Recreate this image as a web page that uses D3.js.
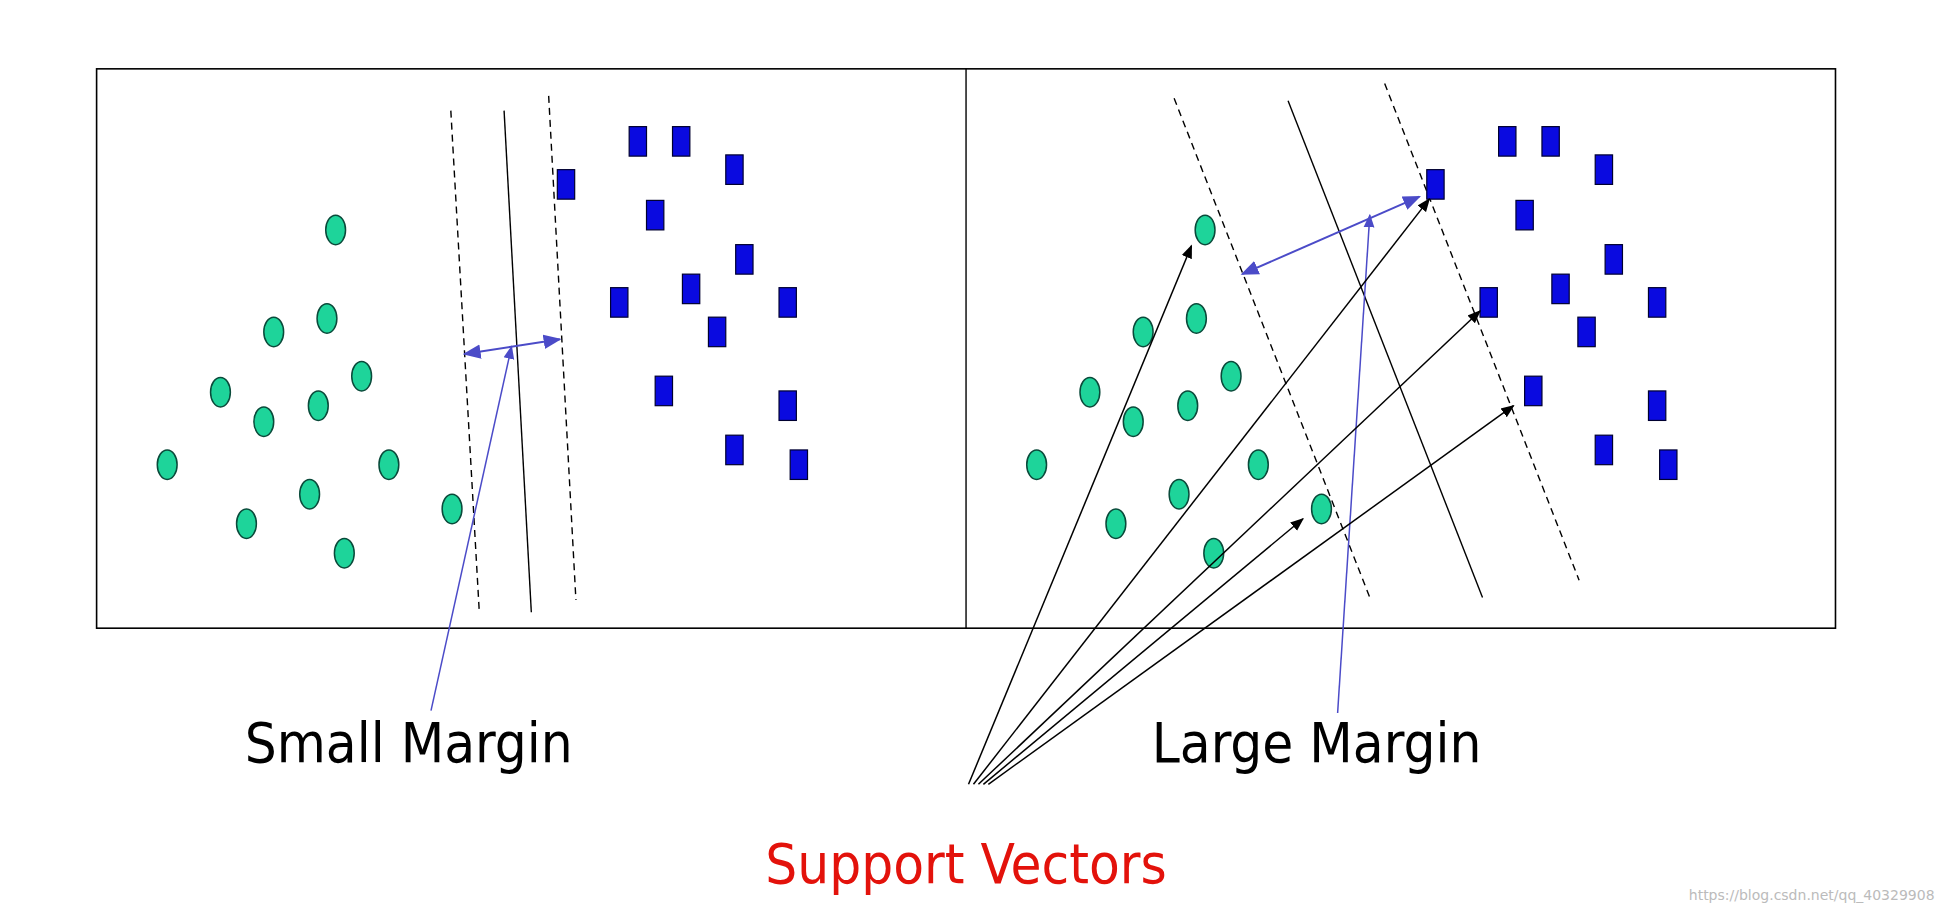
<!DOCTYPE html>
<html><head><meta charset="utf-8">
<script src="https://cdn.jsdelivr.net/npm/d3@7"></script>
<style>body{margin:0;background:#fff}svg{display:block}</style>
</head><body>
<svg id="chart"></svg>
<script>
// reference units (source picture ~1568x750), scaled to the window
const panelShift = 702;
const circles = [[271,187],[221,270],[264,259],[178,319],[213,343],[257,330],[292,306],
  [135,378],[314,378],[250,402],[199,426],[278,450],[365,414]];
const squares = [[515,115],[550,115],[593,138],[457,150],[529,175],[601,211],[500,246],
  [558,235],[636,246],[579,270],[536,318],[636,330],[593,366],[645,378]];
const leftLines = [
  {p:[[364,90],[387,498]], dash:true},
  {p:[[407,90],[429,498]], dash:false},
  {p:[[443,78],[465,488]], dash:true}];
const rightLines = [
  {p:[[948,80],[1106,486]], dash:true},
  {p:[[1040,82],[1197,486]], dash:false},
  {p:[[1118,68],[1275,472]], dash:true}];
const marginArrows = [[[375,288],[452,276]], [[1003,223],[1146,160]]];
const pointerArrows = [[[348,578],[413,282]], [[1080,580],[1106,175]]];
const svArrows = [[[782,638],[962,200]],[[786,638],[1154,162]],[[790,638],[1195,253]],
  [[794,638],[1052,422]],[[798,638],[1222,330]]];
const labels = [{t:"Small Margin",x:330,y:620,c:"#000"},{t:"Large Margin",x:1063,y:620,c:"#000"},
  {t:"Support Vectors",x:780,y:718,c:"#e3120b"}];

const W = 1942, H = 922;
const x = d3.scaleLinear().domain([0,1568]).range([0,W]);
const y = d3.scaleLinear().domain([0,750]).range([0,H]);
const svg = d3.select("#chart").attr("width",W).attr("height",H);

const defs = svg.append("defs");
[["blk","#000"],["blu","#4b4bc8"]].forEach(([id,c])=>{
  defs.append("marker").attr("id",id).attr("viewBox","0 0 10 10").attr("refX",9).attr("refY",5)
    .attr("markerWidth",9).attr("markerHeight",9).attr("orient","auto-start-reverse")
    .append("path").attr("d","M0,1L10,5L0,9z").attr("fill",c);
});

// frame
svg.append("rect").attr("x",x(78)).attr("y",y(56)).attr("width",x(1482)-x(78)).attr("height",y(511)-y(56))
  .attr("fill","none").attr("stroke","#000").attr("stroke-width",1.6);
svg.append("line").attr("x1",x(780)).attr("x2",x(780)).attr("y1",y(56)).attr("y2",y(511))
  .attr("stroke","#000").attr("stroke-width",1.4);

const line = d3.line().x(d=>x(d[0])).y(d=>y(d[1]));
svg.selectAll(".sep").data(leftLines.concat(rightLines)).join("path")
  .attr("d",d=>line(d.p)).attr("stroke","#000").attr("stroke-width",1.4).attr("fill","none")
  .attr("stroke-dasharray",d=>d.dash?"7,5":null);

const allCircles = circles.concat(circles.map(([a,b])=>[a+panelShift,b]));
svg.selectAll(".c").data(allCircles).join("ellipse")
  .attr("cx",d=>x(d[0])).attr("cy",d=>y(d[1])).attr("rx",x(8)).attr("ry",y(12))
  .attr("fill","#1ed49a").attr("stroke","#0a4a3a").attr("stroke-width",1.5);

const allSquares = squares.concat(squares.map(([a,b])=>[a+panelShift,b]));
svg.selectAll(".s").data(allSquares).join("rect")
  .attr("x",d=>x(d[0]-7)).attr("y",d=>y(d[1]-12)).attr("width",x(14)).attr("height",y(24))
  .attr("fill","#0a0ae0").attr("stroke","#000030").attr("stroke-width",1.2);

svg.selectAll(".ma").data(marginArrows).join("path").attr("d",line)
  .attr("stroke","#4b4bc8").attr("stroke-width",2).attr("fill","none")
  .attr("marker-start","url(#blu)").attr("marker-end","url(#blu)");
svg.selectAll(".pa").data(pointerArrows).join("path").attr("d",line)
  .attr("stroke","#4b4bc8").attr("stroke-width",1.5).attr("fill","none")
  .attr("marker-end","url(#blu)");
svg.selectAll(".sv").data(svArrows).join("path").attr("d",line)
  .attr("stroke","#000").attr("stroke-width",1.5).attr("fill","none")
  .attr("marker-end","url(#blk)");

svg.selectAll(".lab").data(labels).join("text")
  .attr("x",d=>x(d.x)).attr("y",d=>y(d.y)).attr("text-anchor","middle").attr("fill",d=>d.c)
  .attr("font-family","'DejaVu Sans Condensed','DejaVu Sans',sans-serif").attr("font-size",56)
  .text(d=>d.t);
svg.append("text").attr("x",x(1562)).attr("y",y(732)).attr("text-anchor","end")
  .attr("fill","#bbb").attr("font-family","'DejaVu Sans',sans-serif").attr("font-size",14)
  .text("https://blog.csdn.net/qq_40329908");
</script>
</body></html>
